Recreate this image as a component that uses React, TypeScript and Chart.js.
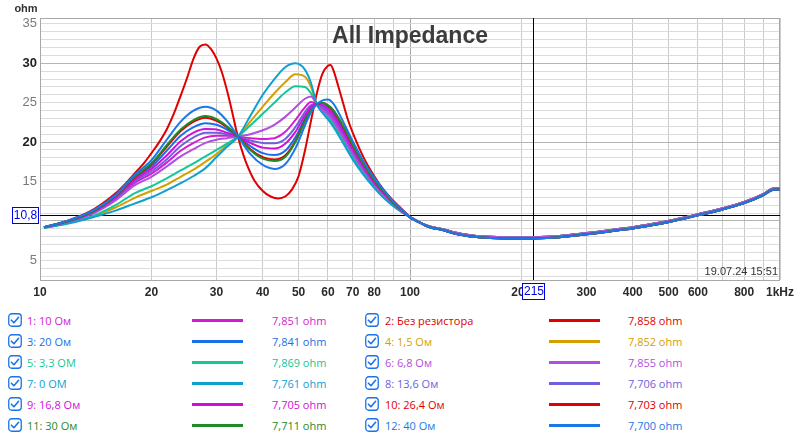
import React, { useEffect, useRef } from 'react';
import { Chart, registerables } from 'chart.js';

Chart.register(...registerables);

// ---------- data ----------
const lowFreq = [10.25, 12, 14, 16, 18, 20, 22, 24, 26, 28, 30, 32, 34.3, 37, 40, 43, 46, 49, 52, 54, 56, 58, 60, 62, 65, 70, 75, 80, 85, 90, 95];

const ohm10 = [9.2, 9.95, 11.1, 12.8, 14.8, 16.0, 17.4, 18.9, 19.9, 20.6, 20.8, 20.8, 20.7, 20.5, 20.4, 20.5, 21.3, 22.8, 24.4, 25.1, 24.8, 24.3, 23.8, 23.0, 21.4, 18.7, 16.5, 14.7, 13.4, 12.2, 11.3];
const ohm20 = [9.2, 10.0, 11.25, 13.1, 15.4, 16.9, 18.9, 20.8, 21.9, 22.4, 22.2, 21.6, 20.7, 19.5, 18.6, 18.35, 18.9, 20.6, 23.0, 24.2, 24.8, 24.9, 24.5, 23.8, 22.2, 19.3, 16.9, 15.0, 13.6, 12.3, 11.4];
const ohm1_5 = [9.1, 9.75, 10.6, 11.7, 12.9, 13.8, 14.6, 15.6, 16.5, 17.5, 18.5, 19.6, 20.7, 22.6, 24.5, 26.2, 27.6, 28.6, 28.3, 27.0, 24.8, 23.8, 23.1, 22.2, 20.6, 18.0, 15.9, 14.3, 13.0, 12.0, 11.15];
const ohm3_3 = [9.15, 9.8, 10.7, 12.0, 13.5, 14.4, 15.4, 16.4, 17.3, 18.2, 19.0, 19.8, 20.7, 22.1, 23.6, 25.0, 26.3, 27.1, 27.0, 26.2, 24.8, 23.9, 23.2, 22.4, 20.8, 18.2, 16.0, 14.4, 13.1, 12.0, 11.2];
const ohm6_8 = [9.2, 9.9, 11.0, 12.6, 14.5, 15.6, 16.9, 18.2, 19.1, 19.9, 20.3, 20.5, 20.7, 21.0, 21.5, 22.2, 23.2, 24.4, 25.5, 25.8, 24.8, 24.1, 23.5, 22.7, 21.1, 18.5, 16.3, 14.6, 13.3, 12.1, 11.25];
const ohm0 = [9.1, 9.7, 10.5, 11.3, 12.2, 13.0, 13.9, 14.8, 15.7, 16.7, 18.1, 19.4, 20.7, 23.3, 26.0, 28.0, 29.5, 30.0, 29.2, 27.5, 24.8, 23.7, 22.9, 22.0, 20.4, 17.8, 15.8, 14.2, 12.9, 11.9, 11.1];
const ohm13_6 = [9.2, 9.95, 11.15, 12.9, 15.0, 16.3, 17.8, 19.5, 20.6, 21.2, 21.2, 21.0, 20.7, 20.2, 19.9, 19.85, 20.4, 21.9, 23.8, 24.7, 24.8, 24.5, 24.0, 23.3, 21.7, 18.9, 16.6, 14.8, 13.5, 12.2, 11.3];
const ohm16_8 = [9.2, 10.0, 11.2, 13.0, 15.2, 16.6, 18.3, 20.1, 21.2, 21.65, 21.6, 21.2, 20.7, 19.9, 19.3, 19.2, 19.8, 21.3, 23.4, 24.5, 24.8, 24.7, 24.2, 23.5, 21.9, 19.1, 16.8, 14.9, 13.5, 12.3, 11.35];
const ohm26_4 = [9.2, 10.05, 11.3, 13.2, 15.5, 17.2, 19.4, 21.4, 22.6, 23.1, 22.7, 21.9, 20.7, 19.1, 18.1, 17.8, 18.3, 20.1, 22.7, 24.0, 24.8, 25.0, 24.6, 24.0, 22.5, 19.6, 17.2, 15.2, 13.7, 12.4, 11.4];
const ohm30 = [9.2, 10.05, 11.3, 13.2, 15.6, 17.3, 19.6, 21.6, 22.8, 23.3, 22.9, 22.0, 20.7, 19.0, 17.9, 17.6, 18.1, 20.0, 22.6, 24.0, 24.8, 25.0, 24.7, 24.1, 22.6, 19.7, 17.2, 15.2, 13.7, 12.4, 11.4];
const ohm40 = [9.2, 10.1, 11.4, 13.3, 15.8, 17.7, 20.3, 22.6, 24.0, 24.5, 24.0, 22.7, 20.7, 18.5, 17.1, 16.6, 17.2, 19.2, 22.1, 23.8, 24.8, 25.3, 25.4, 24.9, 23.2, 20.1, 17.5, 15.5, 13.9, 12.5, 11.45];

const noResFreq = [10.25, 12, 14, 16, 17, 18, 19, 20, 21, 22, 23, 24, 25, 26, 27, 28, 29, 30, 31, 32, 33, 34, 35, 36, 38, 40, 42, 44, 46, 48, 50, 52, 54, 56, 58, 60, 61, 62, 64, 66, 68, 70, 75, 80, 85, 90, 95];
const ohmNoRes = [9.2, 10.1, 11.5, 13.5, 14.7, 16.0, 17.2, 18.6, 20.0, 21.6, 23.6, 25.9, 28.2, 30.6, 32.1, 32.4, 31.8, 30.6, 28.9, 26.6, 24.0, 21.3, 19.2, 17.5, 15.1, 13.8, 13.1, 12.85, 13.1, 14.0, 15.7, 18.9, 22.7, 26.2, 28.7, 29.7, 29.8, 29.2, 27.1, 24.9, 22.8, 21.2, 18.0, 15.7, 13.9, 12.6, 11.5];

const tailFreq = [100, 105, 110, 115, 120, 125, 131, 140, 151, 165, 180, 200, 215, 250, 300, 350, 400, 450, 505, 600, 700, 800, 900, 957, 1000];
const tailHigh = [10.5, 9.95, 9.5, 9.2, 9.05, 8.85, 8.55, 8.3, 8.1, 7.98, 7.93, 7.92, 7.93, 8.05, 8.45, 8.85, 9.2, 9.6, 10.05, 10.85, 11.6, 12.4, 13.4, 14.1, 14.15];
const tailLow = [10.45, 9.9, 9.42, 9.1, 8.93, 8.72, 8.42, 8.16, 7.95, 7.83, 7.78, 7.77, 7.78, 7.9, 8.3, 8.7, 9.05, 9.45, 9.9, 10.7, 11.45, 12.25, 13.25, 13.95, 14.0];

const seriesNames = ['1: 10 Ом', '2: Без резистора', '3: 20 Ом', '4: 1,5 Ом', '5: 3,3 ОМ', '6: 6,8 Ом', '7: 0 ОМ', '8: 13,6 Ом', '9: 16,8 Ом', '10: 26,4 Ом', '11: 30 Ом', '12: 40 Ом'];
const seriesValues = ['7,851 ohm', '7,858 ohm', '7,841 ohm', '7,852 ohm', '7,869 ohm', '7,855 ohm', '7,761 ohm', '7,706 ohm', '7,705 ohm', '7,703 ohm', '7,711 ohm', '7,700 ohm'];
const seriesColors = ['#d41bd4', '#e00000', '#1a6fe6', '#d4a000', '#12c896', '#b04fe0', '#0fa0d0', '#6e62dc', '#d010d8', '#e00000', '#1f8a2a', '#1a78e8'];
const seriesLow = [ohm10, ohmNoRes, ohm20, ohm1_5, ohm3_3, ohm6_8, ohm0, ohm13_6, ohm16_8, ohm26_4, ohm30, ohm40];
const seriesFreq = [lowFreq, noResFreq, lowFreq, lowFreq, lowFreq, lowFreq, lowFreq, lowFreq, lowFreq, lowFreq, lowFreq, lowFreq];
const seriesTail = [tailHigh, tailHigh, tailHigh, tailHigh, tailHigh, tailHigh, tailLow, tailLow, tailLow, tailLow, tailLow, tailLow];

const xTicks = [10, 20, 30, 40, 50, 60, 70, 80, 90, 100, 200, 300, 400, 500, 600, 700, 800, 900, 1000];
const xTickLabels = ['10', '20', '30', '40', '50', '60', '70', '80', '', '100', '200', '300', '400', '500', '600', '', '800', '', '1kHz'];
const yTickLabels = [5, 10, 15, 20, 25, 30, 35];

const cursorFreq = 215;
const cursorOhm = 10.8;
const cursorFreqLabel = '215';
const cursorOhmLabel = '10,8';
const titleText = 'All Impedance';
const unitText = 'ohm';
const stampText = '19.07.24 15:51';

const tickFont = "'Liberation Sans Narrow', 'Liberation Sans', Arial, sans-serif";

const overlayPlugin = {
  id: 'overlay',
  beforeDatasetsDraw(chart: any) {
    const { ctx, chartArea: a, scales } = chart;
    ctx.save();
    ctx.strokeStyle = '#a8a8a8';
    ctx.lineWidth = 1;
    ctx.strokeRect(a.left + 0.5, a.top + 0.5, a.right - a.left - 1, a.bottom - a.top);
    const cy = Math.round(scales.y.getPixelForValue(cursorOhm)) + 0.5;
    const cx = Math.round(scales.x.getPixelForValue(cursorFreq)) + 0.5;
    ctx.strokeStyle = '#000';
    ctx.beginPath();
    ctx.moveTo(a.left, cy);
    ctx.lineTo(a.right, cy);
    ctx.moveTo(cx, a.top);
    ctx.lineTo(cx, a.bottom);
    ctx.stroke();
    ctx.restore();
  },
  afterDraw(chart: any) {
    const { ctx, chartArea: a, scales } = chart;
    ctx.save();
    ctx.fillStyle = '#3c3c3c';
    ctx.font = "bold 23px 'Liberation Sans', Arial, sans-serif";
    ctx.textAlign = 'center';
    ctx.textBaseline = 'alphabetic';
    ctx.fillText(titleText, 410, 43);
    ctx.fillStyle = '#333';
    ctx.font = "bold 11px 'Liberation Sans', Arial, sans-serif";
    ctx.fillText(unitText, 26, 12);
    ctx.font = "11px 'Liberation Sans', Arial, sans-serif";
    ctx.textAlign = 'right';
    ctx.fillText(stampText, a.right - 2, 275);
    const cy = Math.round(scales.y.getPixelForValue(cursorOhm));
    const cx = Math.round(scales.x.getPixelForValue(cursorFreq));
    ctx.font = "12px 'Liberation Sans', Arial, sans-serif";
    ctx.textAlign = 'center';
    ctx.textBaseline = 'middle';
    ctx.lineWidth = 1;
    const bx = a.left - 28, bw = 26, bh = 17;
    ctx.fillStyle = '#fff';
    ctx.fillRect(bx, cy - 8, bw, bh);
    ctx.strokeStyle = '#0000e6';
    ctx.strokeRect(bx + 0.5, cy - 8 + 0.5, bw, bh - 1);
    ctx.fillStyle = '#0000e6';
    ctx.fillText(cursorOhmLabel, bx + bw / 2 + 0.5, cy + 1);
    const w2 = 22, h2 = 16, top2 = a.bottom + 3;
    ctx.fillStyle = '#fff';
    ctx.fillRect(cx - w2 / 2, top2, w2, h2);
    ctx.strokeRect(cx - w2 / 2 + 0.5, top2 + 0.5, w2, h2);
    ctx.fillStyle = '#0000e6';
    ctx.fillText(cursorFreqLabel, cx + 1, top2 + h2 / 2 + 1);
    ctx.restore();
  },
};

function CheckIcon() {
  return (
    <svg width="14" height="14" viewBox="0 0 14 14" style={{ display: 'block' }}>
      <rect x="0.75" y="0.75" width="12.5" height="12.5" rx="3" fill="#fff" stroke="#1a73e8" strokeWidth="1.3" />
      <path d="M3.4 7.2 L5.9 9.7 L10.6 4.3" fill="none" stroke="#1a73e8" strokeWidth="1.6" strokeLinecap="round" strokeLinejoin="round" />
    </svg>
  );
}

export default function App() {
  const ref = useRef<HTMLCanvasElement>(null);

  useEffect(() => {
    const canvas = ref.current;
    if (!canvas) return;
    const datasets = seriesNames.map((name, i) => {
      const fr = seriesFreq[i];
      const lo = seriesLow[i];
      const tl = seriesTail[i];
      const pts = fr.map((f, k) => ({ x: f, y: lo[k] })).concat(tailFreq.map((f, k) => ({ x: f, y: tl[k] })));
      return {
        label: name,
        data: pts,
        borderColor: seriesColors[i],
        backgroundColor: seriesColors[i],
        borderWidth: 2,
        pointRadius: 0,
        fill: false,
        cubicInterpolationMode: 'monotone' as const,
        order: 12 - i,
      };
    });

    const chart = new Chart(canvas, {
      type: 'line',
      data: { datasets },
      options: {
        animation: false,
        responsive: false,
        maintainAspectRatio: false,
        layout: { padding: { top: 18, right: 20, left: 0, bottom: 0 } },
        plugins: {
          legend: { display: false },
          tooltip: { enabled: false },
          title: { display: false },
        },
        elements: { point: { radius: 0 } },
        scales: {
          x: {
            type: 'logarithmic',
            min: 10,
            max: 1000,
            afterBuildTicks: (scale: any) => {
              scale.ticks = xTicks.map((v) => ({ value: v }));
            },
            afterFit: (scale: any) => {
              scale.height = 20;
            },
            border: { display: false },
            grid: {
              drawTicks: false,
              color: (ctx: any) => (ctx.tick && ctx.tick.value === 100 ? '#a8a8a8' : '#cbcbcb'),
              lineWidth: 1,
            },
            ticks: {
              autoSkip: false,
              maxRotation: 0,
              minRotation: 0,
              padding: 5,
              color: '#2a2a2a',
              font: { family: tickFont, size: 12, weight: 'bold' },
              callback: (value: any) => {
                const idx = xTicks.indexOf(Number(value));
                return idx >= 0 ? xTickLabels[idx] : '';
              },
            },
          },
          y: {
            type: 'linear',
            min: 2.5,
            max: 35.75,
            afterBuildTicks: (scale: any) => {
              const t = [];
              for (let v = 3; v <= 35; v++) t.push({ value: v });
              scale.ticks = t;
            },
            afterFit: (scale: any) => {
              scale.width = 40;
            },
            border: { display: false },
            grid: {
              drawTicks: false,
              color: (ctx: any) => (ctx.tick && ctx.tick.value % 10 === 0 ? '#b4b4b4' : '#dcdcdc'),
              lineWidth: 1,
            },
            ticks: {
              autoSkip: false,
              padding: 3,
              color: (ctx: any) => (ctx.tick && ctx.tick.value % 10 === 0 ? '#222' : '#7a7a7a'),
              font: (ctx: any) => ({
                family: tickFont,
                size: 13,
                weight: ctx.tick && ctx.tick.value % 10 === 0 ? 'bold' : 'normal',
              }),
              callback: (value: any) => (yTickLabels.indexOf(Number(value)) >= 0 ? String(value) : ''),
            },
          },
        },
      } as any,
      plugins: [overlayPlugin],
    });
    return () => chart.destroy();
  }, []);

  const legendFont = "'Open Sans', 'Noto Sans', sans-serif";
  const cols = [
    { box: 8, label: 27, line: 192, value: 272 },
    { box: 365, label: 385, line: 549, value: 628 },
  ];

  return (
    <div style={{ position: 'fixed', left: 0, top: 0, width: 800, height: 436, background: '#fff', overflow: 'hidden' }}>
      <canvas ref={ref} width={800} height={300} style={{ display: 'block', width: 800, height: 300 }} />
      {seriesNames.map((name, i) => {
        const col = cols[i % 2];
        const row = Math.floor(i / 2);
        const cy = 320 + row * 21;
        const color = seriesColors[i];
        const textStyle: React.CSSProperties = {
          position: 'absolute',
          top: cy - 10.5,
          height: 21,
          lineHeight: '21px',
          fontFamily: legendFont,
          fontSize: 11,
          color,
          whiteSpace: 'nowrap',
        };
        return (
          <React.Fragment key={name}>
            <div style={{ position: 'absolute', left: col.box, top: cy - 7 }}>
              <CheckIcon />
            </div>
            <div style={{ ...textStyle, left: col.label }}>{name}</div>
            <div style={{ position: 'absolute', left: col.line, top: cy - 1.5, width: 51, height: 3, background: color }} />
            <div style={{ ...textStyle, left: col.value }}>{seriesValues[i]}</div>
          </React.Fragment>
        );
      })}
    </div>
  );
}
